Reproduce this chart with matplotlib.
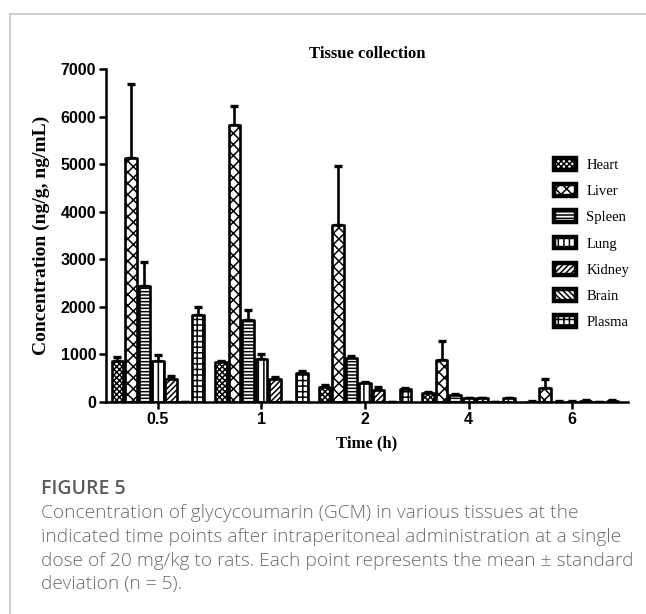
import numpy as np
import matplotlib.pyplot as plt
from matplotlib.lines import Line2D
from matplotlib.patches import Patch

# concentration data (ng/g or ng/mL), mean and SD per time point
times = ["0.5", "1", "2", "4", "6"]
tissues = ["Heart", "Liver", "Spleen", "Lung", "Kidney", "Brain", "Plasma"]

heart = [870, 850, 320, 180, 10]
heart_sd = [80, 20, 35, 20, 5]
liver = [5120, 5830, 3730, 890, 300]
liver_sd = [1560, 390, 1230, 390, 190]
spleen = [2440, 1720, 920, 150, 10]
spleen_sd = [510, 220, 50, 25, 5]
lung = [860, 900, 390, 75, 10]
lung_sd = [130, 100, 25, 15, 5]
kidney = [490, 480, 260, 75, 30]
kidney_sd = [50, 40, 60, 15, 5]
brain = [0, 0, 0, 0, 0]
brain_sd = [0, 0, 0, 0, 0]
plasma = [1830, 600, 270, 75, 30]
plasma_sd = [160, 50, 30, 15, 5]

means = [heart, liver, spleen, lung, kidney, brain, plasma]
sds = [heart_sd, liver_sd, spleen_sd, lung_sd, kidney_sd, brain_sd, plasma_sd]
hatches = ["xxxxxx", "xxx", "-----", "|||", "//////", "\\\\\\\\\\\\", "+++"]

caption = [
    "Concentration of glycycoumarin (GCM) in various tissues at the",
    "indicated time points after intraperitoneal administration at a single",
    "dose of 20 mg/kg to rats. Each point represents the mean \u00b1 standard",
    "deviation (n = 5).",
]

plt.rcParams["hatch.linewidth"] = 1.1
serif = ["Liberation Serif", "DejaVu Serif"]
sans = ["Liberation Sans", "DejaVu Sans"]

W, H = 646, 614
fig = plt.figure(figsize=(W / 100, H / 100), dpi=100)
ax = fig.add_axes([106 / W, 1 - 402 / H, 522 / W, 333 / H])

x = np.arange(len(times))
width = 0.112
step = 0.13
for k, (name, m, s, h) in enumerate(zip(tissues, means, sds, hatches)):
    pos = x + (k - 3) * step
    ax.errorbar(pos, m, yerr=[np.zeros(len(s)), s], fmt="none", ecolor="black",
                elinewidth=1.9, capsize=3, capthick=2.4, zorder=2)
    bars = ax.bar(pos, m, width=width, facecolor="white", edgecolor="black",
                  linewidth=1.9, hatch=h, zorder=3)
    for b in bars:
        b.set_joinstyle("round")

ax.set_xlim(-0.5, 4.54)
ax.set_ylim(0, 7000)
ax.set_yticks(np.arange(0, 7001, 1000))
ax.set_xticks(x)
ax.set_xticklabels(times)
for sp in ("top", "right"):
    ax.spines[sp].set_visible(False)
for sp in ("left", "bottom"):
    ax.spines[sp].set_linewidth(1.8)
    ax.spines[sp].set_zorder(4)
ax.tick_params(axis="both", width=1.8, length=5, direction="out", pad=2)
for lab in ax.get_xticklabels() + ax.get_yticklabels():
    lab.set_family(sans)
    lab.set_fontweight("bold")
    lab.set_fontsize(11.5)

ax.set_title("Tissue collection", family=serif, fontweight="bold", fontsize=12, pad=8)
ax.set_xlabel("Time (h)", family=serif, fontweight="bold", fontsize=12, labelpad=6)
ax.set_ylabel("Concentration (ng/g, ng/mL)", family=serif, fontweight="bold",
              fontsize=14, labelpad=8)

handles = [Patch(facecolor="white", edgecolor="black", linewidth=3.2, hatch=h,
                 joinstyle="round", label=t) for t, h in zip(tissues, hatches)]
ax.legend(handles=handles, loc="upper left", bbox_to_anchor=(0.845, 0.755),
          frameon=False, prop={"family": serif, "size": 10.5}, handlelength=1.45,
          handleheight=0.85, handletextpad=0.75, labelspacing=0.85, borderpad=0)

# panel border (light gray, top and left)
border = "#c8c8c8"
fig.add_artist(Line2D([10 / W, 10 / W], [0, 1 - 14 / H], color=border, lw=1.2))
fig.add_artist(Line2D([10 / W, 1], [1 - 14 / H, 1 - 14 / H], color=border, lw=1.2))

cap_font = ["Open Sans", "DejaVu Sans"]
fig.text(41 / W, 1 - 494 / H, "FIGURE 5", family=cap_font,
         fontweight="semibold", fontsize=14, color="#5c5c5c", va="baseline")
for i, line in enumerate(caption):
    fig.text(41 / W, 1 - (518 + 23.8 * i) / H, line, family=cap_font,
             fontweight="light", fontsize=13.8, color="#6b6b6b", va="baseline")

fig.savefig("out.png", dpi=100)
